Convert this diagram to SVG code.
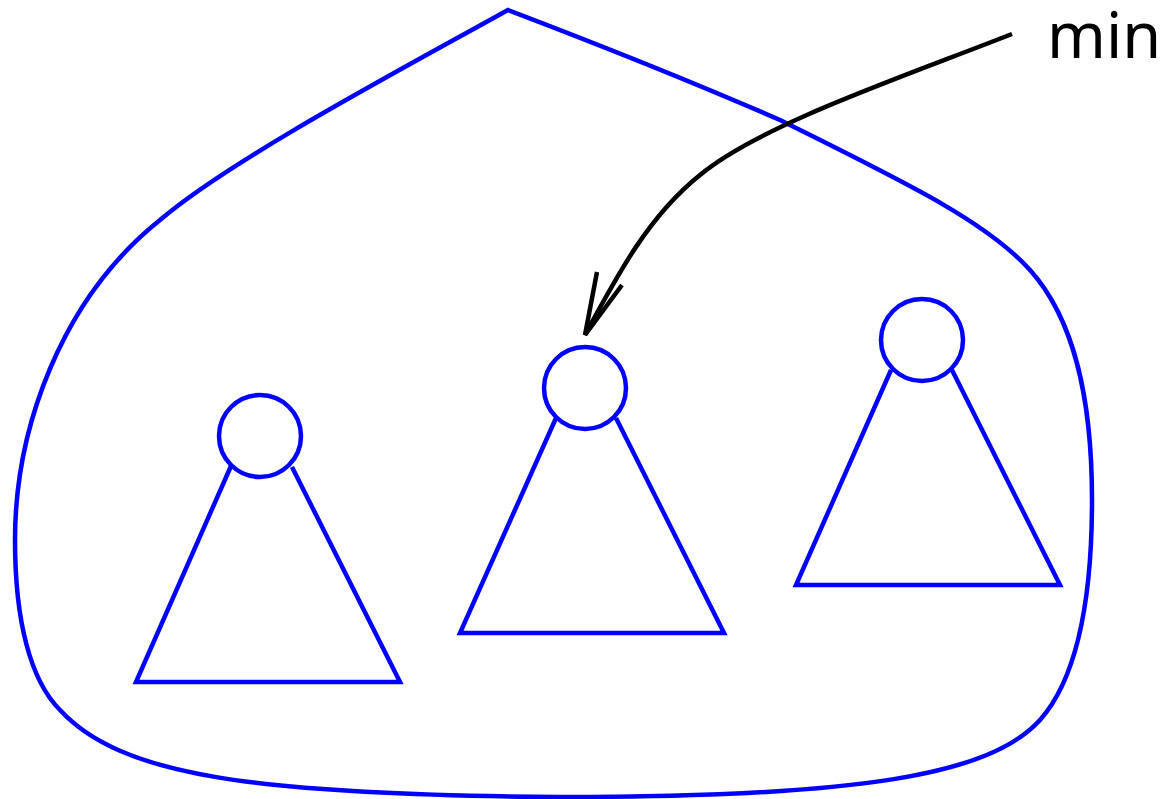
<svg xmlns="http://www.w3.org/2000/svg" width="1172" height="799" viewBox="0 0 1172 799">
<style>
.b{fill:none;stroke:#0000ff;stroke-width:4.5}
.k{fill:none;stroke:#000;stroke-width:4.5}
text{font-family:"Noto Sans","Open Sans",sans-serif;font-size:63px;fill:#000}
</style>
<rect width="1172" height="799" fill="#fff"/>
<g id="blob"><path class="b" d="M508,10 C400,70 230,160 160,220 C60,300 15,430 15,540 C15,620 30,680 60,710 C120,775 250,795 560,797 C860,797 990,775 1040,720 C1080,675 1092,590 1092,500 C1092,400 1075,320 1030,270 C985,220 900,180 780,120 C700,85 600,45 508,10 Z"/></g>
<g id="tree1"><circle class="b" cx="260" cy="436" r="41"/><polyline class="b" points="231,466 136,682 400,682 292,467"/></g>
<g id="tree2"><circle class="b" cx="585" cy="388" r="41"/><polyline class="b" points="556,418 460,633 724,633 616,418"/></g>
<g id="tree3"><circle class="b" cx="922" cy="340" r="41"/><polyline class="b" points="891,370 796,585 1060,585 952,370"/></g>
<g id="connectors"><path class="k" d="M1012,34 C900,78 760,125 700,175 C650,215 620,270 585,335"/><polyline class="k" points="597,272 585,335 622,285"/></g>
<g id="label"><text x="1047" y="58">min</text></g>
</svg>
